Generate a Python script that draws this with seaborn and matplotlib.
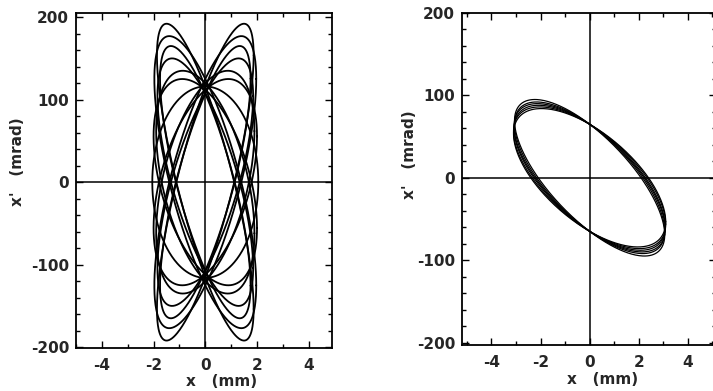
import numpy as np
import pandas as pd
import matplotlib
matplotlib.use("Agg")
import matplotlib.pyplot as plt
import seaborn as sns
from matplotlib.ticker import MultipleLocator

# ---- data ----
# Left panel: phase ellipses x = A cos t, x' = B cos(t - phi); each drawn with its mirror (phi -> 180-phi)
left_A = [1.87, 1.97, 1.85, 1.90, 2.00, 2.05, 1.75]      # mm
left_B = [192, 177, 150, 135, 125, 116, 165]             # mrad
left_phi = [36.8, 45.0, 46.0, 62.7, 63.6, 90.0, 40.5]    # deg

# Right panel: bundle of nearly identical tilted ellipses
right_A = [3.10, 3.10, 3.08, 3.08, 3.06, 3.06]
right_B = [84, 86, 88, 90, 92, 95]
right_phi = [129.3, 130.9, 132.4, 133.8, 135.0, 136.8]

x_major = [-4, -2, 0, 2, 4]
y_major = [-200, -100, 0, 100, 200]

sns.set_theme(style="ticks")
plt.rcParams['font.family'] = ['DejaVu Sans']
plt.rcParams['font.weight'] = 'bold'

fig = plt.figure(figsize=(7.13, 3.91), dpi=100)
axL = fig.add_axes([76/713, 1-348/391, 256/713, 335/391])
axR = fig.add_axes([462/713, 1-345/391, 254/713, 332/391])

t = np.linspace(0, 2*np.pi, 400)

def ellipse_frame(A, B, phi, cid):
    ph = np.deg2rad(phi)
    return pd.DataFrame({"x": A*np.cos(t), "y": B*np.cos(t - ph), "cid": cid})

frames = []
cid = 0
for A, B, p in zip(left_A, left_B, left_phi):
    frames.append(ellipse_frame(A, B, p, cid)); cid += 1
    if p != 90.0:
        frames.append(ellipse_frame(A, B, 180 - p, cid)); cid += 1
dfL = pd.concat(frames)
sns.lineplot(data=dfL, x="x", y="y", units="cid", estimator=None, sort=False,
             color="black", lw=1.3, ax=axL)

frames = []
for i, (A, B, p) in enumerate(zip(right_A, right_B, right_phi)):
    frames.append(ellipse_frame(A, B, p, i))
dfR = pd.concat(frames)
sns.lineplot(data=dfR, x="x", y="y", units="cid", estimator=None, sort=False,
             color="black", lw=0.9, ax=axR)

for ax, xl, yl in [(axL, (-5.0, 4.9), (-201, 205)), (axR, (-5.2, 5.15), (-203, 200))]:
    ax.set_xlim(*xl)
    ax.set_ylim(*yl)
    ax.axhline(0, color="black", lw=1.1, zorder=1)
    ax.axvline(0, color="black", lw=1.1, zorder=1)
    ax.set_xticks(x_major)
    ax.set_yticks(y_major)
    ax.set_xticklabels([f"{v}" for v in x_major])
    ax.set_yticklabels([f"{v}" for v in y_major])
    ax.xaxis.set_minor_locator(MultipleLocator(1))
    ax.yaxis.set_minor_locator(MultipleLocator(20))
    ax.tick_params(which="both", direction="in", top=True, right=True, color="black", width=1.0)
    ax.tick_params(which="major", length=5, labelsize=11, pad=5)
    ax.tick_params(axis="x", which="major", pad=7)
    ax.tick_params(which="minor", length=3)
    for lab in ax.get_xticklabels() + ax.get_yticklabels():
        lab.set_fontweight("bold")
    for s in ax.spines.values():
        s.set_color("black")
        s.set_linewidth(1.3)
    ax.set_xlabel("")
    ax.set_ylabel("")

fig.text(18/713, 1-162/391, "x'   (mrad)", rotation=90, ha="center", va="center",
         fontsize=11, fontweight="bold")
fig.text(222/713, 1-381/391, "x   (mm)", ha="center", va="center", fontsize=11, fontweight="bold")
fig.text(410/713, 1-155/391, "x'   (mrad)", rotation=90, ha="center", va="center",
         fontsize=11, fontweight="bold")
fig.text(603/713, 1-379/391, "x   (mm)", ha="center", va="center", fontsize=11, fontweight="bold")

fig.savefig("out.png", dpi=100)
